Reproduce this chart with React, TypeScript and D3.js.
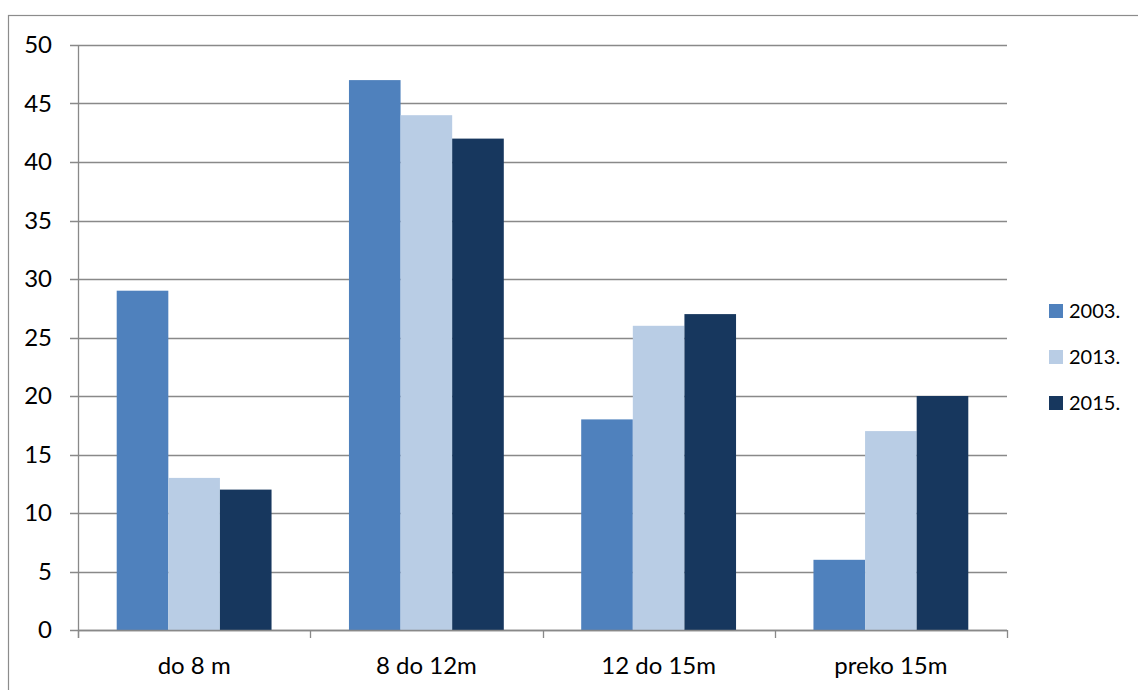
import React, { useEffect, useRef } from "react";
import * as d3 from "d3";

const categories = ["do 8 m", "8 do 12m", "12 do 15m", "preko 15m"];
const seriesNames = ["2003.", "2013.", "2015."];
const values2003 = [29, 47, 18, 6];
const values2013 = [13, 44, 26, 17];
const values2015 = [12, 42, 27, 20];
const yTicks = [0, 5, 10, 15, 20, 25, 30, 35, 40, 45, 50];
const colors = ["#4F81BD", "#B9CDE5", "#17375E"];

const W = 1138;
const H = 690;
const FONT = "Lato, 'Open Sans', sans-serif";

export default function App() {
  const ref = useRef<SVGSVGElement | null>(null);

  useEffect(() => {
    const svg = d3.select(ref.current);
    svg.selectAll("*").remove();

    const left = 78;
    const right = 1007;
    const top = 45;
    const bottom = 630;
    const grid = "#898989";

    // chart frame
    svg
      .append("rect")
      .attr("x", 8.5)
      .attr("y", 15.5)
      .attr("width", W + 20)
      .attr("height", H + 20)
      .attr("fill", "white")
      .attr("stroke", "#8c8c8c")
      .attr("stroke-width", 1.2);

    const y = d3.scaleLinear().domain([0, 50]).range([bottom, top]);
    const x0 = d3.scaleBand<string>().domain(categories).range([left, right]);
    const bw = x0.bandwidth() / 4.5;
    const x1 = d3
      .scaleBand<string>()
      .domain(seriesNames)
      .range([bw * 0.75, bw * 3.75]);

    // horizontal gridlines with tick stubs
    svg
      .append("g")
      .selectAll("line")
      .data(yTicks)
      .join("line")
      .attr("x1", left - 8)
      .attr("x2", right)
      .attr("y1", (d) => Math.round(y(d)) + 0.5)
      .attr("y2", (d) => Math.round(y(d)) + 0.5)
      .attr("stroke", grid)
      .attr("stroke-width", 1.3);

    svg
      .append("g")
      .selectAll("text")
      .data(yTicks)
      .join("text")
      .attr("x", 52)
      .attr("y", (d) => y(d))
      .attr("dy", "0.35em")
      .attr("text-anchor", "end")
      .attr("font-family", FONT)
      .attr("font-size", 24)
      .attr("fill", "#000")
      .text((d) => String(d));

    const seriesValues = [values2003, values2013, values2015];

    // bars
    categories.forEach((cat, ci) => {
      seriesNames.forEach((s, si) => {
        const v = seriesValues[si][ci];
        svg
          .append("rect")
          .attr("x", (x0(cat) as number) + (x1(s) as number))
          .attr("y", y(v))
          .attr("width", x1.bandwidth())
          .attr("height", y(0) - y(v))
          .attr("fill", colors[si]);
      });
    });

    // axes lines
    svg
      .append("line")
      .attr("x1", left + 0.5)
      .attr("x2", left + 0.5)
      .attr("y1", top)
      .attr("y2", bottom + 8)
      .attr("stroke", grid)
      .attr("stroke-width", 1.3);

    const xTickPos = categories.map((c) => x0(c) as number).concat([right]);
    svg
      .append("g")
      .selectAll("line")
      .data(xTickPos)
      .join("line")
      .attr("x1", (d) => Math.round(d) + 0.5)
      .attr("x2", (d) => Math.round(d) + 0.5)
      .attr("y1", bottom)
      .attr("y2", bottom + 8)
      .attr("stroke", grid)
      .attr("stroke-width", 1.3);

    svg
      .append("line")
      .attr("x1", left)
      .attr("x2", right)
      .attr("y1", bottom + 0.5)
      .attr("y2", bottom + 0.5)
      .attr("stroke", grid)
      .attr("stroke-width", 1.3);

    svg
      .append("g")
      .selectAll("text")
      .data(categories)
      .join("text")
      .attr("x", (d) => (x0(d) as number) + x0.bandwidth() / 2)
      .attr("y", 666)
      .attr("dy", "0.35em")
      .attr("text-anchor", "middle")
      .attr("font-family", FONT)
      .attr("font-size", 24)
      .attr("fill", "#000")
      .text((d) => d);

    // legend
    const legend = svg
      .append("g")
      .selectAll("g")
      .data(seriesNames)
      .join("g")
      .attr("transform", (_d, i) => `translate(1049, ${311 + i * 46})`);
    legend
      .append("rect")
      .attr("x", 0)
      .attr("y", -7)
      .attr("width", 14)
      .attr("height", 14)
      .attr("fill", (_d, i) => colors[i]);
    legend
      .append("text")
      .attr("x", 20)
      .attr("y", 0)
      .attr("dy", "0.35em")
      .attr("font-family", FONT)
      .attr("font-size", 20)
      .attr("fill", "#000")
      .text((d) => d);
  }, []);

  return (
    <svg
      ref={ref}
      width={W}
      height={H}
      style={{ position: "absolute", left: 0, top: 0, background: "white" }}
    />
  );
}
